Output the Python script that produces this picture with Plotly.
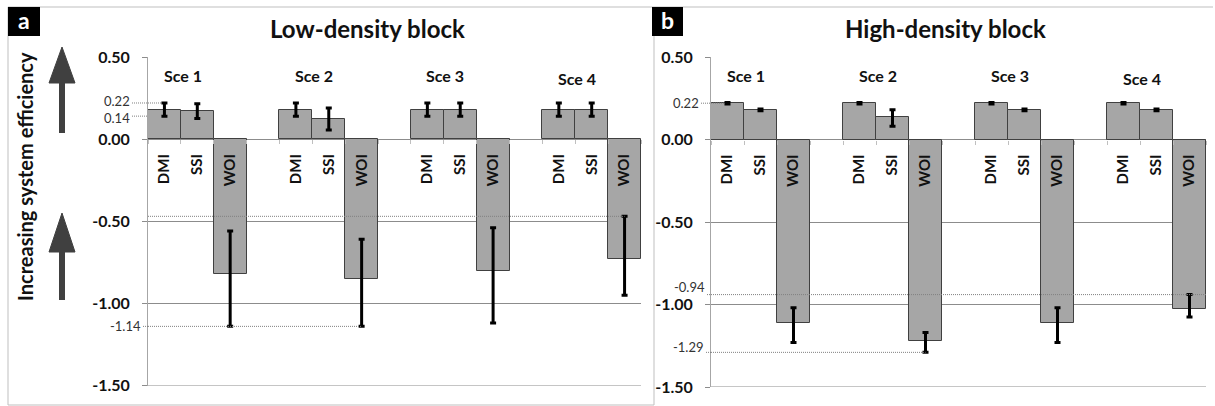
import plotly.graph_objects as go

# ---- data -------------------------------------------------------------
scenarios = ["Sce 1", "Sce 2", "Sce 3", "Sce 4"]
indices = ["DMI", "SSI", "WOI"]

# Low-density block: mean change per index and scenario, with error extents
low_dmi = [0.18, 0.18, 0.18, 0.18]
low_dmi_plus = [0.04, 0.04, 0.04, 0.04]
low_dmi_minus = [0.04, 0.04, 0.04, 0.04]
low_ssi = [0.17, 0.12, 0.18, 0.18]
low_ssi_plus = [0.045, 0.07, 0.04, 0.04]
low_ssi_minus = [0.045, 0.065, 0.04, 0.04]
low_woi = [-0.82, -0.85, -0.80, -0.73]
low_woi_plus = [0.26, 0.24, 0.26, 0.26]
low_woi_minus = [0.32, 0.29, 0.32, 0.22]

# High-density block
high_dmi = [0.22, 0.22, 0.22, 0.22]
high_dmi_plus = [0.005, 0.005, 0.005, 0.005]
high_dmi_minus = [0.005, 0.005, 0.005, 0.005]
high_ssi = [0.18, 0.135, 0.18, 0.18]
high_ssi_plus = [0.005, 0.045, 0.005, 0.005]
high_ssi_minus = [0.005, 0.055, 0.005, 0.005]
high_woi = [-1.11, -1.22, -1.11, -1.03]
high_woi_plus = [0.09, 0.05, 0.09, 0.09]
high_woi_minus = [0.12, 0.07, 0.12, 0.045]

y_ticks = [0.5, 0.0, -0.5, -1.0, -1.5]
y_tick_text = ["0.50", "0.00", "-0.50", "-1.00", "-1.50"]

# ---- page geometry (pixels) -------------------------------------------
W, H = 1215, 406


def px(x):
    return x / W


def py(y):
    return 1 - y / H


FONT = "Lato"
DARK = "#111111"
BAR = "#a6a6a6"
GRID = "#8c8c8c"
LIGHT = "#bfbfbf"


def interleave(dmi, ssi, woi):
    out = []
    for a, b, c in zip(dmi, ssi, woi):
        out += [a, b, c]
    return out


# bar slots: three bars per scenario, one empty slot between scenarios
xpos = [4 * g + k for g in range(len(scenarios)) for k in range(len(indices))]
xlabels = [indices[k] for g in range(len(scenarios)) for k in range(len(indices))]

panels = [
    dict(vals=interleave(low_dmi, low_ssi, low_woi),
         plus=interleave(low_dmi_plus, low_ssi_plus, low_woi_plus),
         minus=interleave(low_dmi_minus, low_ssi_minus, low_woi_minus),
         xa="x", ya="y"),
    dict(vals=interleave(high_dmi, high_ssi, high_woi),
         plus=interleave(high_dmi_plus, high_ssi_plus, high_woi_plus),
         minus=interleave(high_dmi_minus, high_ssi_minus, high_woi_minus),
         xa="x2", ya="y2"),
]

fig = go.Figure()
for p in panels:
    fig.add_trace(go.Bar(
        x=xpos, y=p["vals"], width=1.0,
        marker=dict(color=BAR, line=dict(color="#404040", width=1)),
        error_y=dict(type="data", symmetric=False, array=p["plus"],
                     arrayminus=p["minus"], color="black", thickness=3, width=3),
        xaxis=p["xa"], yaxis=p["ya"], showlegend=False, hoverinfo="skip",
    ))

# axis domains in page pixels
left_x = (148, 641)
right_x = (711, 1206)
left_y = (57, 385.5)
right_y = (57, 387)


def y_domain(top, bottom):
    return [py(bottom), py(top)]


def zero_pos(top, bottom):
    d0, d1 = y_domain(top, bottom)
    return d0 + (0 - (-1.5)) / 2.0 * (d1 - d0)


def xaxis_cfg(xr, yr):
    return dict(
        domain=[px(xr[0]), px(xr[1])], range=[-0.5, 14.5], automargin=False,
        anchor="free", position=zero_pos(*yr),
        tickmode="array", tickvals=xpos, ticktext=xlabels, ticks="",
        tickangle=-90, ticklabelstandoff=11,
        tickfont=dict(family=FONT, size=15, color=DARK, weight="bold"),
        showgrid=False, zeroline=False, showline=False,
        minor=dict(tickmode="array", tickvals=[i - 0.5 for i in range(16)],
                   ticks="outside", ticklen=4, tickcolor=LIGHT, showgrid=False),
    )


def yaxis_cfg(yr, anchor):
    return dict(
        domain=y_domain(*yr), range=[-1.5, 0.5], anchor=anchor,
        automargin=False,
        tickmode="array", tickvals=y_ticks, ticktext=y_tick_text,
        ticks="outside", ticklen=5, tickcolor=GRID, ticklabelstandoff=9,
        tickfont=dict(family=FONT, size=16, color=DARK, weight="bold"),
        showgrid=True, gridcolor=GRID, gridwidth=1,
        zeroline=True, zerolinecolor=GRID, zerolinewidth=1,
        showline=True, linecolor="#a6a6a6", linewidth=1,
    )


fig.update_layout(
    width=W, height=H, margin=dict(l=0, r=0, t=0, b=0, pad=0),
    paper_bgcolor="white", plot_bgcolor="white",
    bargap=0,
    xaxis=xaxis_cfg(left_x, left_y),
    yaxis=yaxis_cfg(left_y, "x"),
    xaxis2=xaxis_cfg(right_x, right_y),
    yaxis2=yaxis_cfg(right_y, "x2"),
)

shapes = []
annotations = []

# bottom gridline of each panel
for xa, ya in [("x", "y"), ("x2", "y2")]:
    shapes.append(dict(type="line", xref=f"{xa} domain", yref=ya,
                       x0=0, x1=1, y0=-1.5, y1=-1.5, layer="below",
                       line=dict(color=GRID, width=1)))

# outer frame of the left panel and the divider
frame = dict(type="line", xref="paper", yref="paper",
             line=dict(color=LIGHT, width=1))
shapes += [
    dict(frame, x0=px(8), x1=px(1213), y0=py(7), y1=py(7)),
    dict(frame, x0=px(8), x1=px(8), y0=py(7), y1=py(405)),
    dict(frame, x0=px(8), x1=px(654), y0=py(405), y1=py(405)),
    dict(frame, x0=px(654), x1=px(654), y0=py(7), y1=py(405)),
]

# panel letters on black tags
for letter, x0, x1 in [("a", 8, 40), ("b", 652, 683)]:
    shapes.append(dict(type="rect", xref="paper", yref="paper",
                       x0=px(x0), x1=px(x1), y0=py(36), y1=py(7),
                       fillcolor="black", line=dict(width=0)))
    annotations.append(dict(text=letter, xref="paper", yref="paper",
                            x=px((x0 + x1) / 2), y=py(20), showarrow=False,
                            xanchor="center", yanchor="middle",
                            font=dict(family=FONT, size=23, color="white",
                                      weight="bold")))

# panel titles
for title, cx in [("Low-density block", 367), ("High-density block", 945)]:
    annotations.append(dict(text=title, xref="paper", yref="paper",
                            x=px(cx), y=py(28), showarrow=False,
                            xanchor="center", yanchor="middle",
                            font=dict(family=FONT, size=24, color=DARK,
                                      weight="bold")))

# y-axis title and direction arrows
annotations.append(dict(text="Increasing system efficiency", xref="paper",
                        yref="paper", x=px(25), y=py(177), textangle=-90,
                        showarrow=False, xanchor="center", yanchor="middle",
                        font=dict(family=FONT, size=20, color=DARK,
                                  weight="bold")))
ARROW = "#404040"
for tip, base, end in [(47, 83, 133), (213, 252, 300)]:
    shapes.append(dict(type="path", xref="paper", yref="paper",
                       path=f"M {px(49)},{py(base)} L {px(75)},{py(base)} "
                            f"L {px(62)},{py(tip)} Z",
                       fillcolor=ARROW, line=dict(color=ARROW, width=1)))
    shapes.append(dict(type="line", xref="paper", yref="paper",
                       x0=px(62), x1=px(62), y0=py(base - 1), y1=py(end),
                       line=dict(color=ARROW, width=6)))

# scenario labels above each group
for xa, ya, ys in [("x", "y", [0.39, 0.39, 0.39, 0.37]),
                   ("x2", "y2", [0.39, 0.39, 0.39, 0.37])]:
    for g, name in enumerate(scenarios):
        annotations.append(dict(text=name, xref=xa, yref=ya,
                                x=4 * g + 0.55, y=ys[g], showarrow=False,
                                xanchor="center", yanchor="middle",
                                font=dict(family=FONT, size=16, color=DARK,
                                          weight="bold")))

# dotted reference levels with their values
DOT = dict(color="#808080", width=1, dash="1px,1px")


def ref_level(xa, ya, value, x_end, axis_left_px, label_right=None,
              shift=0, label=True):
    if label_right is not None:
        shapes.append(dict(type="line", xref="paper", yref=ya,
                           x0=px(label_right + 1), x1=px(axis_left_px),
                           y0=value, y1=value, line=DOT))
    if x_end is not None:
        shapes.append(dict(type="line", xref=xa, yref=ya, x0=-0.5, x1=x_end,
                           y0=value, y1=value, line=DOT))
    if label and label_right is not None:
        annotations.append(dict(text=f"{value:.2f}", xref="paper", yref=ya,
                                x=px(label_right), y=value, yshift=shift,
                                showarrow=False, xanchor="right",
                                yanchor="middle", borderpad=0,
                                font=dict(family=FONT, size=13,
                                          color="#333333")))


lp = panels[0]
hp = panels[1]
# low-density: DMI error range of Sce 1, lower WOI limit, upper WOI limit of Sce 4
ref_level("x", "y", round(lp["vals"][0] + lp["plus"][0], 2), xpos[0] - 0.1,
          148, label_right=131, shift=2)
ref_level("x", "y", round(lp["vals"][0] - lp["minus"][0], 2), None,
          148, label_right=131, shift=-2)
ref_level("x", "y", round(lp["vals"][5] - lp["minus"][5], 2), xpos[5],
          148, label_right=142)
ref_level("x", "y", round(lp["vals"][11] + lp["plus"][11], 2), xpos[11],
          148, label=False)
# high-density: DMI level, upper WOI limit of Sce 4, lower WOI limit of Sce 2
ref_level("x2", "y2", hp["vals"][0], xpos[0] - 0.1, 711, label_right=700)
ref_level("x2", "y2", round(hp["vals"][11] + hp["plus"][11], 2), 14.5, 711,
          label_right=706, shift=8)
ref_level("x2", "y2", round(hp["vals"][5] - hp["minus"][5], 2), xpos[5], 711,
          label_right=705, shift=5)

fig.update_layout(shapes=shapes, annotations=annotations)
fig.write_html("out.html")
